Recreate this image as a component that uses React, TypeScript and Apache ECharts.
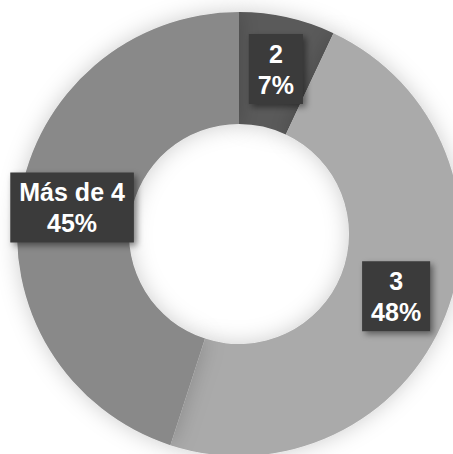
import React, { useEffect, useRef } from "react";
import * as echarts from "echarts";

const categories = ["2", "3", "Más de 4"];
const values = [7, 48, 45];
const colors = ["#5a5a5a", "#aaaaaa", "#898989"];

export default function App() {
  const ref = useRef<HTMLDivElement>(null);
  useEffect(() => {
    const chart = echarts.init(ref.current!, undefined, { renderer: "svg" });
    chart.setOption({
      animation: false,
      backgroundColor: "#ffffff",
      series: [
        {
          type: "pie",
          center: [239, 234],
          radius: [110, 222],
          startAngle: 90,
          clockwise: true,
          avoidLabelOverlap: false,
          data: categories.map((c, i) => ({
            name: c,
            value: values[i],
            itemStyle: { color: colors[i] },
          })),
          itemStyle: {
            shadowBlur: 22,
            shadowColor: "rgba(0,0,0,0.2)",
          },
          label: {
            show: true,
            position: "inside",
            formatter: (p: any) => `${p.name}\n${Math.round(p.percent)}%`,
            color: "#ffffff",
            fontFamily: "Liberation Sans, Arial, sans-serif",
            fontWeight: "bold",
            fontSize: 25,
            lineHeight: 31,
            align: "center",
            backgroundColor: "#3a3a3a",
            padding: [5, 9, 3, 9],
            shadowColor: "rgba(0,0,0,0.45)",
            shadowBlur: 6,
            shadowOffsetX: 3,
            shadowOffsetY: 3,
          },
          labelLine: { show: false },
          emphasis: { disabled: true },
        },
      ],
    });
    return () => chart.dispose();
  }, []);
  return (
    <div
      ref={ref}
      style={{ position: "fixed", left: 0, top: 0, width: 453, height: 454 }}
    />
  );
}
